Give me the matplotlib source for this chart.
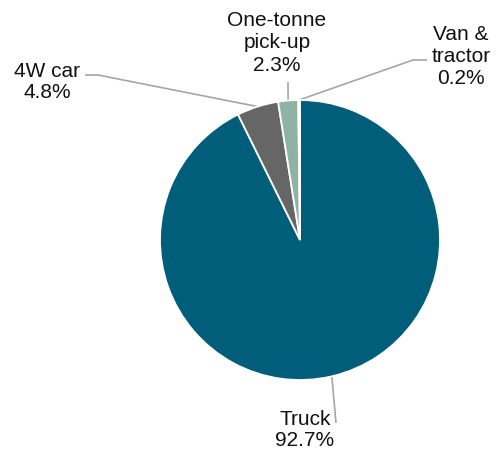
import numpy as np
import matplotlib
matplotlib.use("Agg")
import matplotlib.pyplot as plt

plt.rcParams['font.family'] = ['Liberation Sans', 'DejaVu Sans']

categories = ["Truck", "4W car", "One-tonne\npick-up", "Van &\ntractor"]
shares = [92.7, 4.8, 2.3, 0.2]
colors = ["#005e7a", "#666666", "#8fb2a4", "#1f3f4e"]

W, H = 497, 452
fig = plt.figure(figsize=(W / 100, H / 100), dpi=100)
ax = fig.add_axes([0, 0, 1, 1])

cx, cy, r = 300, H - 241, 140
wedges, _ = ax.pie(shares, colors=colors, startangle=90, counterclock=False,
                   center=(cx, cy), radius=r,
                   wedgeprops=dict(edgecolor="white", linewidth=1.3))
ax.set_xlim(0, W)
ax.set_ylim(0, H)
ax.set_aspect("equal")
ax.axis("off")

# label text anchor (pixel coords from top-left) and leader-line elbow points
label_pos = [(305, 430), (47, 82), (277, 43), (461, 56)]
spacing = [1.12, 1.12, 1.22, 1.2]
elbows = [
    [(336, 424)],
    [(98, 76), (85, 76)],
    [(288, 83)],
    [(413, 61), (427, 61)],
]

line_color = "#a6a6a6"
for w, name, val, (lx, ly), ls, pts in zip(wedges, categories, shares,
                                            label_pos, spacing, elbows):
    mid = np.deg2rad((w.theta1 + w.theta2) / 2)
    ex, ey = cx + r * np.cos(mid), cy + r * np.sin(mid)
    xs = [ex] + [p[0] for p in pts]
    ys = [ey] + [H - p[1] for p in pts]
    ax.plot(xs, ys, color=line_color, lw=1.2, solid_capstyle="butt", zorder=0)
    ax.text(lx, H - ly, f"{name}\n{val:.1f}%", ha="center", va="center",
            fontsize=15, linespacing=ls, color="#111111")

fig.savefig("out.png", dpi=100)
